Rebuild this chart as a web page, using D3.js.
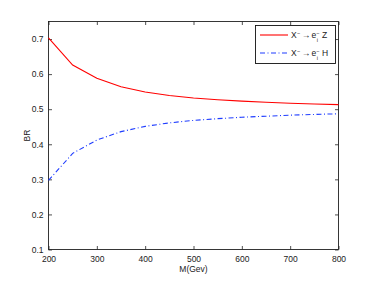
<!DOCTYPE html>
<html>
<head>
<meta charset="utf-8">
<script src="https://cdn.jsdelivr.net/npm/d3@7"></script>
<style>
  body { margin: 0; background: #fff; }
  svg text { font-family: "Liberation Sans", Arial, sans-serif; }
</style>
</head>
<body>
<svg id="chart" width="374" height="281"></svg>
<script>
// masses (GeV) and branching ratios
const masses = [200, 250, 300, 350, 400, 450, 500, 550, 600, 650, 700, 750, 800];
const brZ = [0.703, 0.626, 0.588, 0.564, 0.549, 0.539, 0.532, 0.527, 0.523, 0.520, 0.517, 0.515, 0.513];
const brH = [0.297, 0.374, 0.412, 0.436, 0.451, 0.461, 0.468, 0.473, 0.477, 0.480, 0.483, 0.485, 0.487];
const xTicks = [200, 300, 400, 500, 600, 700, 800];
const yTicks = [0.1, 0.2, 0.3, 0.4, 0.5, 0.6, 0.7];

const svg = d3.select("#chart");
const plotL = 48.5, plotR = 338.5, plotT = 21.5, plotB = 249.5;

const x = d3.scaleLinear().domain([200, 800]).range([plotL, plotR]);
const y = d3.scaleLinear().domain([0.1, 0.75]).range([plotB, plotT]);

// axes, matlab style: ticks inward, box on
const tickLen = 3.5;
const axColor = "#222";

svg.append("g")
    .attr("transform", `translate(0,${plotB})`)
    .call(d3.axisBottom(x).tickValues(xTicks).tickSize(-tickLen).tickPadding(6).tickFormat(d3.format("d")))
    .call(g => g.select(".domain").remove());

svg.append("g")
    .attr("transform", `translate(0,${plotT})`)
    .call(d3.axisTop(x).tickValues(xTicks).tickSize(-tickLen).tickFormat(""))
    .call(g => g.select(".domain").remove());

svg.append("g")
    .attr("transform", `translate(${plotL},0)`)
    .call(d3.axisLeft(y).tickValues(yTicks).tickSize(-tickLen).tickPadding(5).tickFormat(d3.format(".1f")))
    .call(g => g.select(".domain").remove());

svg.append("g")
    .attr("transform", `translate(${plotR},0)`)
    .call(d3.axisRight(y).tickValues(yTicks).tickSize(-tickLen).tickFormat(""))
    .call(g => g.select(".domain").remove());

svg.selectAll(".tick line").attr("stroke", axColor).attr("stroke-width", 0.8);
svg.selectAll(".tick text").attr("fill", "#222").attr("font-size", 8.5);

svg.append("rect")
    .attr("x", plotL).attr("y", plotT)
    .attr("width", plotR - plotL).attr("height", plotB - plotT)
    .attr("fill", "none").attr("stroke", axColor).attr("stroke-width", 0.9);

const line = vals => d3.line()
    .x((d, i) => x(masses[i]))
    .y(d => y(d))(vals);

svg.append("path")
    .attr("d", line(brZ))
    .attr("fill", "none").attr("stroke", "#ff0000").attr("stroke-width", 1.1);

svg.append("path")
    .attr("d", line(brH))
    .attr("fill", "none").attr("stroke", "#1f3dff").attr("stroke-width", 1.1)
    .attr("stroke-dasharray", "5,2.5,1,2.5");

// labels
svg.append("text")
    .attr("x", (plotL + plotR) / 2).attr("y", 272)
    .attr("text-anchor", "middle").attr("font-size", 8.5).attr("fill", "#222")
    .text("M(Gev)");

svg.append("text")
    .attr("transform", `translate(30,${(plotT + plotB) / 2}) rotate(-90)`)
    .attr("text-anchor", "middle").attr("font-size", 8.5).attr("fill", "#222")
    .text("BR");

// legend
const leg = svg.append("g");
leg.append("rect")
    .attr("x", 255.5).attr("y", 25.5).attr("width", 80).attr("height", 38)
    .attr("fill", "#fff").attr("stroke", "#111").attr("stroke-width", 0.9);

const entries = [
    { label: "Z", color: "#ff0000", dash: null, yy: 35 },
    { label: "H", color: "#1f3dff", dash: "5,2.5,1,2.5", yy: 53 }
];

// place a piece of the label and return its right edge
function piece(g, txt, px, py, size) {
    const t = g.append("text")
        .attr("x", px).attr("y", py)
        .attr("font-size", size).attr("fill", "#222")
        .text(txt);
    return px + t.node().getComputedTextLength();
}

entries.forEach(e => {
    leg.append("line")
        .attr("x1", 260).attr("x2", 288).attr("y1", e.yy).attr("y2", e.yy)
        .attr("stroke", e.color).attr("stroke-width", 1.1)
        .attr("stroke-dasharray", e.dash);
    const base = e.yy + 3.3;
    let cx = piece(leg, "X", 291, base, 8.5);
    cx = piece(leg, "\u2212", cx + 0.3, base - 3.8, 5.5);
    cx = piece(leg, "\u2192", cx + 1.5, base, 8.5);
    cx = piece(leg, "e", cx + 1.2, base, 8.5);
    const supEnd = piece(leg, "\u2212", cx + 0.2, base - 3.8, 5.5);
    piece(leg, "i", cx + 0.6, base + 3.2, 5.5);
    piece(leg, e.label, supEnd + 2.5, base, 8.5);
});
</script>
</body>
</html>
